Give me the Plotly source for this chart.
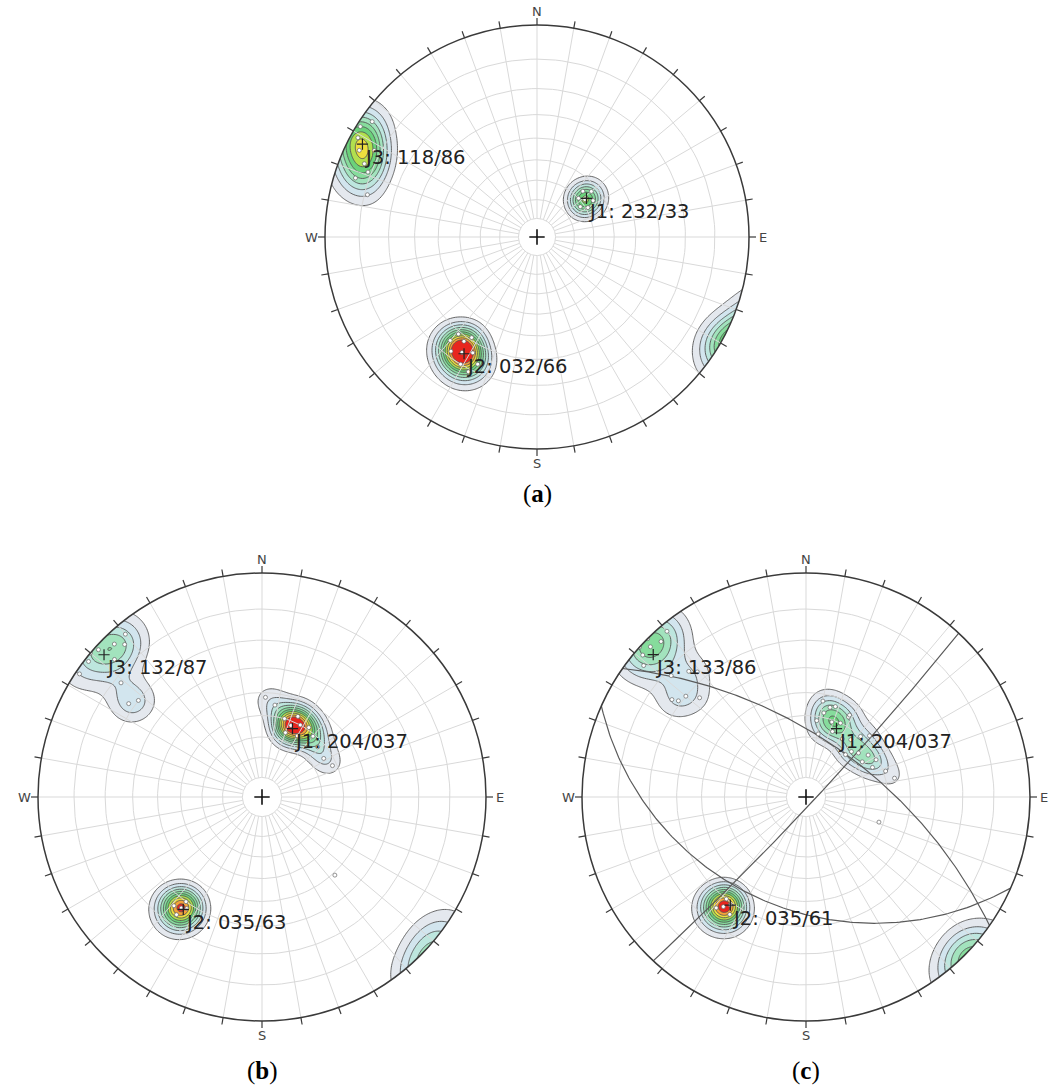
import numpy as np
import plotly.graph_objects as go

FIG_W, FIG_H = 1050, 1091

# ---------------- data (poles: trend / plunge / count) ----------------
# (a)
a_trend = [52, 47, 57, 50, 55, 45, 60,
           213, 209, 217, 211, 215, 205, 220, 213, 207, 219,
           299, 296, 302, 293, 291, 288, 305, 284, 298]
a_plunge = [58, 60, 55, 53, 62, 56, 59,
            24, 26, 22, 20, 28, 23, 25, 31, 19, 29,
            2, 4, 1, 7, 9, 6, 3, 11, 8]
a_count = [4, 2, 2, 2, 2, 1, 1,
           8, 3, 3, 3, 3, 2, 2, 2, 1, 1,
           5, 3, 2, 3, 2, 2, 1, 1, 2]
a_set_label = ["J1: 232/33", "J2: 032/66", "J3: 118/86"]
a_set_dipdir = [232, 32, 118]
a_set_dip = [33, 66, 86]

# (b)
b_trend = [22, 28, 16, 34, 24, 20, 40, 48, 58, 66, 8, 2, 30,
           216, 214, 219, 216, 216,
           316, 318, 320, 312, 308, 310, 304, 313, 305, 308, 309,
           137]
b_plunge = [52, 50, 50, 49, 47, 56, 51, 53, 54, 52, 45, 42, 55,
            27, 28, 26, 24, 30,
            3, 5, 3, 1, 1, 0, 1, 6, 18, 20, 12,
            39]
b_count = [7, 4, 3, 3, 3, 3, 3, 2, 2, 1, 2, 1, 2,
           7, 3, 3, 2, 2,
           2, 2, 1, 2, 1, 1, 1, 1, 2, 2, 1,
           1]
b_set_label = ["J1: 204/037", "J2: 035/63", "J3: 132/87"]
b_set_dipdir = [204, 35, 132]
b_set_dip = [37, 63, 87]

# (c)
c_trend = [19, 12, 25, 15, 22, 8, 28, 10, 18, 28, 11,
           56, 50, 62, 58, 66, 38, 42, 32, 45, 46, 43, 72, 78,
           217, 215, 219, 213, 218,
           315, 317, 311, 314, 320, 309, 317, 319, 306, 307, 313, 312, 310, 312,
           109]
c_plunge = [51, 48, 50, 45, 55, 52, 46, 43, 44, 45, 58,
            53, 56, 51, 57, 54, 54, 50, 56, 58, 47, 61, 49, 46,
            27, 29, 25, 26, 30,
            0, 3, 2, 2, 2, 4, 15, 17, 17, 19, 24, 12, 20, 0,
            52]
c_count = [3, 2, 2, 1, 2, 1, 1, 1, 1, 1, 1,
           2, 2, 2, 1, 1, 2, 1, 1, 1, 1, 1, 1, 1,
           8, 3, 3, 2, 2,
           2, 2, 2, 1, 2, 1, 1, 1, 1, 1, 1, 1, 1, 1,
           1]
c_set_label = ["J1: 204/037", "J2: 035/61", "J3: 133/86"]
c_set_dipdir = [204, 35, 133]
c_set_dip = [37, 61, 86]

# contour levels and colours
LEVEL_START, LEVEL_SIZE, LEVEL_END = 1.5, 1.5, 15.0
level_colors = ['#e4e8ee', '#d2e5ee', '#bde6de', '#a2e3bd', '#86dc9c',
                '#6ad27a', '#b2e04e', '#eedf3e', '#f5a23a', '#e8261e']
KAPPA = 131.0

panels = [
    dict(tag='a', cx=537, cy=237, R=212, HP=236, trend=a_trend, plunge=a_plunge, count=a_count,
         dd=a_set_dipdir, dip=a_set_dip, lab=a_set_label, gc=False, cap_y=494),
    dict(tag='b', cx=262, cy=797, R=224, HP=240, trend=b_trend, plunge=b_plunge, count=b_count,
         dd=b_set_dipdir, dip=b_set_dip, lab=b_set_label, gc=False, cap_y=1071),
    dict(tag='c', cx=806, cy=797, R=224, HP=240, trend=c_trend, plunge=c_plunge, count=c_count,
         dd=c_set_dipdir, dip=c_set_dip, lab=c_set_label, gc=True, cap_y=1071),
]


def proj(trend, plunge):
    t = np.radians(np.asarray(trend, float))
    th = np.radians(90.0 - np.asarray(plunge, float))
    r = np.tan(th / 2.0)
    return r * np.sin(t), r * np.cos(t)


def vec(trend, plunge):
    t = np.radians(np.asarray(trend, float))
    p = np.radians(np.asarray(plunge, float))
    return np.stack([np.cos(p) * np.sin(t), np.cos(p) * np.cos(t), np.sin(p)], axis=-1)


def great_circle(dipdir, dip):
    s = vec(dipdir - 90, 0)
    d = vec(dipdir, dip)
    phi = np.radians(np.linspace(0, 180, 181))
    v = np.outer(np.cos(phi), s) + np.outer(np.sin(phi), d)
    v[v[:, 2] < 0] *= -1
    x = v[:, 0] / (1 + v[:, 2])
    y = v[:, 1] / (1 + v[:, 2])
    return x, y


nc = int(round((LEVEL_END - LEVEL_START) / LEVEL_SIZE)) + 1
colorscale = [[0.0, 'rgba(255,255,255,0)']] + [[(k + 1) / nc, level_colors[k]] for k in range(nc)]

fig = go.Figure()
shapes = []
annotations = []
GRID_C = '#d9d9d9'

for i, P in enumerate(panels):
    sfx = '' if i == 0 else str(i + 1)
    xa, ya = 'x' + sfx, 'y' + sfx
    R = P['R']
    HP = P['HP']
    cx, cy = P['cx'], P['cy']
    L = HP / R
    fig.update_layout(**{
        'xaxis' + sfx: dict(domain=[max(0.0, (cx - HP) / FIG_W), min(1.0, (cx + HP) / FIG_W)],
                            range=[-L, L], visible=False, fixedrange=True, anchor=ya),
        'yaxis' + sfx: dict(domain=[max(0.0, 1 - (cy + HP) / FIG_H), min(1.0, 1 - (cy - HP) / FIG_H)],
                            range=[-L, L], visible=False, fixedrange=True, anchor=xa),
    })

    # polar grid
    gx, gy = [], []
    ph = np.radians(np.arange(0, 361, 2))
    for dd in range(10, 90, 10):
        r = np.tan(np.radians(dd / 2))
        gx += list(r * np.sin(ph)) + [None]
        gy += list(r * np.cos(ph)) + [None]
    r0 = np.tan(np.radians(5))
    for az in range(0, 360, 10):
        a = np.radians(az)
        gx += [r0 * np.sin(a), np.sin(a), None]
        gy += [r0 * np.cos(a), np.cos(a), None]
    fig.add_trace(go.Scatter(x=gx, y=gy, mode='lines', line=dict(color=GRID_C, width=1),
                             hoverinfo='skip', showlegend=False, xaxis=xa, yaxis=ya))

    # density contours
    xs = np.linspace(-1.12, 1.12, 281)
    X, Y = np.meshgrid(xs, xs)
    rr = np.hypot(X, Y)
    th = 2 * np.arctan(rr)
    az = np.arctan2(X, Y)
    G = np.stack([np.sin(th) * np.sin(az), np.sin(th) * np.cos(az), np.cos(th)], axis=-1)
    PV = vec(P['trend'], P['plunge'])
    cnt = np.asarray(P['count'], float)
    dots = np.abs(G @ PV.T)
    Z = (np.exp(KAPPA * (dots - 1.0)) * cnt).sum(axis=-1)
    fig.add_trace(go.Contour(x=xs, y=xs, z=Z, autocontour=False,
                             contours=dict(start=LEVEL_START, end=LEVEL_END, size=LEVEL_SIZE,
                                           coloring='fill', showlines=True),
                             line=dict(color='#555555', width=0.9, smoothing=0.8),
                             colorscale=colorscale, showscale=False, hoverinfo='skip',
                             xaxis=xa, yaxis=ya))

    # great circles
    if P['gc']:
        for dd, dp in zip(P['dd'], P['dip']):
            x, y = great_circle(dd, dp)
            fig.add_trace(go.Scatter(x=x, y=y, mode='lines', line=dict(color='#5a5a5a', width=1.2),
                                     hoverinfo='skip', showlegend=False, xaxis=xa, yaxis=ya))

    # poles
    px, py = proj(P['trend'], P['plunge'])
    fig.add_trace(go.Scatter(x=px, y=py, mode='markers',
                             marker=dict(symbol='circle', size=4, color='white',
                                         line=dict(color='#666666', width=0.7)),
                             hoverinfo='skip', showlegend=False, xaxis=xa, yaxis=ya))

    # mean set poles + labels
    mt = [d + 180 if d < 180 else d - 180 for d in P['dd']]
    mp = [90 - d for d in P['dip']]
    mx, my = proj(mt, mp)
    fig.add_trace(go.Scatter(x=mx, y=my, mode='markers',
                             marker=dict(symbol='cross-thin', size=8, line=dict(color='#222222', width=1.2)),
                             hoverinfo='skip', showlegend=False, xaxis=xa, yaxis=ya))
    for lx, ly, txt in zip(mx, my, P['lab']):
        annotations.append(dict(x=lx, y=ly - 13.0 / R, xref=xa, yref=ya, text=txt, showarrow=False,
                                xanchor='left', yanchor='middle',
                                font=dict(family='DejaVu Sans', size=19.5, color='#222222')))

    # centre cross
    fig.add_trace(go.Scatter(x=[0], y=[0], mode='markers',
                             marker=dict(symbol='cross-thin', size=11, line=dict(color='#111111', width=1.6)),
                             hoverinfo='skip', showlegend=False, xaxis=xa, yaxis=ya))

    # white mask outside the primitive circle
    cp = np.radians(np.arange(0, 360, 2))
    path = f"M {-L},{-L} L {L},{-L} L {L},{L} L {-L},{L} Z M " + \
        " L ".join(f"{np.sin(a):.5f},{np.cos(a):.5f}" for a in cp) + " Z"
    shapes.append(dict(type='path', path=path, xref=xa, yref=ya, fillcolor='white',
                       line=dict(width=0), layer='above'))
    shapes.append(dict(type='circle', x0=-1, y0=-1, x1=1, y1=1, xref=xa, yref=ya,
                       line=dict(color='#3a3a3a', width=1.5), layer='above'))
    tl = 7.0 / R
    for az_t in range(0, 360, 10):
        a = np.radians(az_t)
        shapes.append(dict(type='line', x0=np.sin(a), y0=np.cos(a),
                           x1=(1 + tl) * np.sin(a), y1=(1 + tl) * np.cos(a),
                           xref=xa, yref=ya, line=dict(color='#3a3a3a', width=1.2), layer='above'))
    d = 1 + 14.0 / R
    for txt, ax_, ay_ in [('N', 0, d), ('E', d, 0), ('S', 0, -d), ('W', -d, 0)]:
        annotations.append(dict(x=ax_, y=ay_, xref=xa, yref=ya, text=txt, showarrow=False,
                                xanchor='center', yanchor='middle',
                                font=dict(family='DejaVu Sans', size=13, color='#444444')))
    annotations.append(dict(x=cx / FIG_W, y=1 - P['cap_y'] / FIG_H, xref='paper', yref='paper',
                            text=f"(<b>{P['tag']}</b>)", showarrow=False, xanchor='center', yanchor='middle',
                            font=dict(family='Liberation Serif', size=25, color='#000000')))

fig.update_layout(width=FIG_W, height=FIG_H, margin=dict(l=0, r=0, t=0, b=0),
                  paper_bgcolor='white', plot_bgcolor='white', showlegend=False,
                  hovermode=False, shapes=shapes, annotations=annotations)

fig.write_html("out.html", config={'displayModeBar': False},
               post_script="document.body.style.margin='0px';")
